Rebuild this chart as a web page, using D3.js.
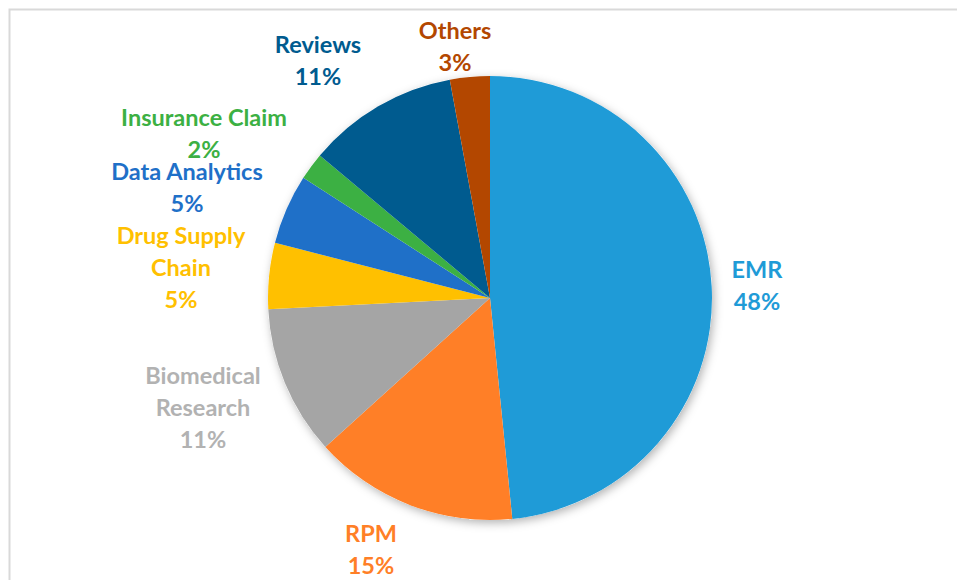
<!DOCTYPE html>
<html>
<head>
<meta charset="utf-8">
<script src="https://cdn.jsdelivr.net/npm/d3@7"></script>
<style>
  html, body { margin: 0; padding: 0; background: #fff; }
  svg text { font-family: Lato, "Open Sans", sans-serif; font-weight: bold; }
</style>
</head>
<body>
<div id="chart"></div>
<script>
const categories = ["EMR", "RPM", "Biomedical Research", "Drug Supply Chain", "Data Analytics", "Insurance Claim", "Reviews", "Others"];
const shares = [48.4, 14.9, 10.9, 4.8, 5.1, 2.0, 11.0, 2.9];
const colors = ["#1f9bd7", "#ff7f27", "#a5a5a5", "#ffc000", "#1f70c8", "#3cb043", "#005b8f", "#b34700"];
const labelLines = [["EMR"], ["RPM"], ["Biomedical", "Research"], ["Drug Supply", "Chain"], ["Data Analytics"], ["Insurance Claim"], ["Reviews"], ["Others"]];

const w = 957, h = 580;
const cx = 490, cy = 298, r = 222;
// label block centres (manually placed like the original)
const labelXY = [[757, 286], [371, 550], [203, 408], [181, 268], [187, 188], [204, 134], [318, 61], [455, 47]];

const svg = d3.select("#chart").append("svg")
  .attr("width", w)
  .attr("height", h);

svg.append("rect")
  .attr("x", 9.5).attr("y", 9.5)
  .attr("width", w).attr("height", h)
  .attr("fill", "none")
  .attr("stroke", "#d9d9d9")
  .attr("stroke-width", 2);

const defs = svg.append("defs");
const f = defs.append("filter").attr("id", "shadow")
  .attr("x", "-20%").attr("y", "-20%").attr("width", "140%").attr("height", "140%");
f.append("feDropShadow")
  .attr("dx", 2).attr("dy", 3).attr("stdDeviation", 5)
  .attr("flood-color", "#000").attr("flood-opacity", 0.3);

const pie = d3.pie().sort(null).value(d => d);
const arcs = pie(shares);
const arc = d3.arc().innerRadius(0).outerRadius(r);

const g = svg.append("g").attr("transform", `translate(${cx},${cy})`);
g.append("circle").attr("r", r).attr("fill", "#fff").attr("filter", "url(#shadow)");
g.selectAll("path")
  .data(arcs)
  .enter()
  .append("path")
  .attr("d", arc)
  .attr("fill", (d, i) => colors[i]);

const lh = 32;
const labels = svg.selectAll("text.lbl")
  .data(arcs)
  .enter()
  .append("text")
  .attr("class", "lbl")
  .attr("text-anchor", "middle")
  .attr("font-size", 23.5)
  .attr("fill", (d, i) => i === 2 ? "#b2b2b2" : colors[i]);

labels.each(function(d, i) {
  const lines = labelLines[i].concat([Math.round(d.data) + "%"]);
  const [x, y] = labelXY[i];
  const top = y - (lines.length - 1) * lh / 2;
  d3.select(this).selectAll("tspan")
    .data(lines)
    .enter()
    .append("tspan")
    .attr("x", x)
    .attr("y", (t, k) => top + k * lh + 8)
    .text(t => t);
});
</script>
</body>
</html>
